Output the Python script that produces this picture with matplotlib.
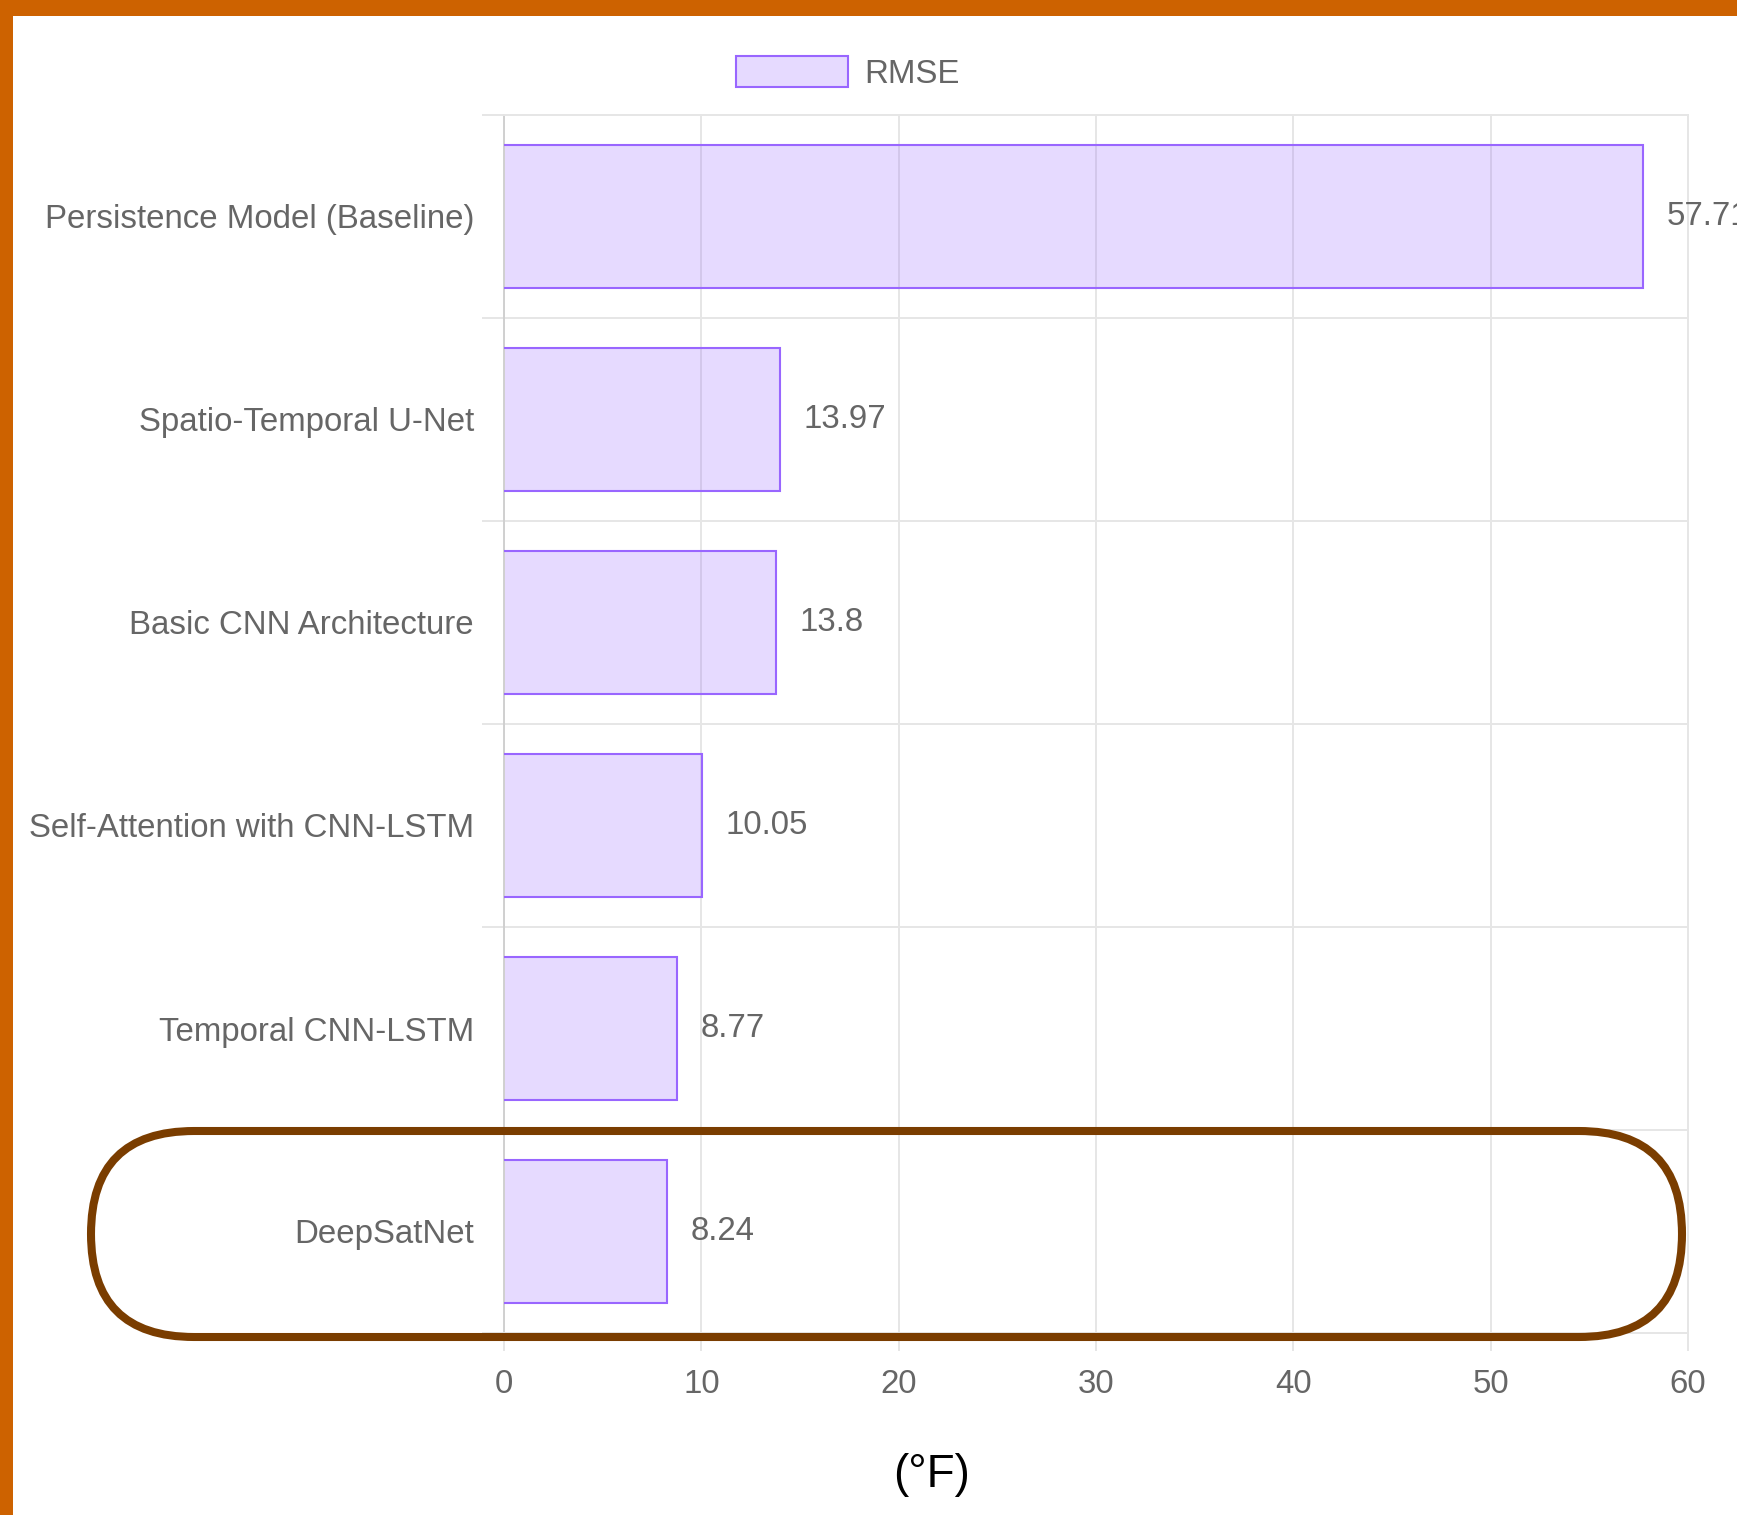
import numpy as np
import matplotlib
matplotlib.use("Agg")
import matplotlib.pyplot as plt
from matplotlib.patches import Patch, Rectangle, FancyBboxPatch

plt.rcParams['font.family'] = ['Liberation Sans', 'DejaVu Sans']

models = [
    "Persistence Model (Baseline)",
    "Spatio-Temporal U-Net",
    "Basic CNN Architecture",
    "Self-Attention with CNN-LSTM",
    "Temporal CNN-LSTM",
    "DeepSatNet",
]
rmse = [57.71, 13.97, 13.8, 10.05, 8.77, 8.24]
x_ticks = [0, 10, 20, 30, 40, 50, 60]

W, H = 1737, 1515
fill = (153 / 255, 102 / 255, 1.0, 0.24)
edge = (153 / 255, 102 / 255, 1.0)
grid_c = "#e6e6e6"
text_c = "#666666"
fs = 23.8

fig = plt.figure(figsize=(W / 100, H / 100), dpi=100)
ax = fig.add_axes([504 / W, 1 - 1333 / H, 1184 / W, (1333 - 115) / H])

ypos = np.arange(len(models))
bar_h = 0.70
ax.barh(ypos, rmse, height=bar_h, color=fill, edgecolor="none", zorder=2)
# outline on top/right/bottom only (no border at the base)
for y, v in zip(ypos, rmse):
    ax.plot([0, v, v, 0], [y - bar_h / 2, y - bar_h / 2, y + bar_h / 2, y + bar_h / 2],
            color=edge, lw=1.5, zorder=3, solid_joinstyle="miter")
    ax.annotate(f"{v}", xy=(v, y), xytext=(17, 0), textcoords="offset points",
                ha="left", va="center", fontsize=fs, color=text_c,
                annotation_clip=False)

ax.set_xlim(0, 60)
ax.set_ylim(len(models) - 0.5, -0.5)
ax.set_xticks(x_ticks)
ax.set_yticks(ypos)
ax.set_yticklabels(models)
ax.set_yticks(np.arange(-0.5, len(models), 1), minor=True)

ax.grid(axis="x", which="major", color=grid_c, lw=1.4, zorder=0)
ax.grid(axis="y", which="minor", color=grid_c, lw=1.4, zorder=0)
ax.set_axisbelow(True)

ax.tick_params(axis="x", which="major", length=13, width=1.4, color=grid_c,
               pad=13, labelsize=fs, labelcolor=text_c)
ax.tick_params(axis="y", which="major", length=0, pad=21.6,
               labelsize=fs, labelcolor=text_c)
ax.tick_params(axis="y", which="minor", length=15.8, width=1.4, color=grid_c)

for side in ["top", "right", "bottom"]:
    ax.spines[side].set_color(grid_c)
    ax.spines[side].set_linewidth(1.4)
ax.spines["left"].set_color("#d0d0d0")
ax.spines["left"].set_linewidth(1.4)

fig.legend(handles=[Patch(facecolor=fill, edgecolor=edge, lw=1.5)], labels=["RMSE"],
           loc="center", bbox_to_anchor=(847.5 / W, 1 - 73 / H), frameon=False,
           fontsize=fs, labelcolor=text_c, handlelength=3.39, handleheight=1.05,
           handletextpad=0.5)

fig.text(932 / W, 1 - 1475 / H, "(°F)", ha="center", va="center",
         fontsize=33, color="black")

# pixel-space overlay for the frame and the highlight
ov = fig.add_axes([0, 0, 1, 1], zorder=10)
ov.set_xlim(0, W)
ov.set_ylim(H, 0)
ov.axis("off")
ov.patch.set_alpha(0)
ov.add_patch(Rectangle((0, 0), W, 16, color="#cd6200", lw=0))
ov.add_patch(Rectangle((0, 0), 13, H, color="#cd6200", lw=0))
ov.add_patch(FancyBboxPatch((91, 1131), 1682 - 91, 206,
                            boxstyle="round,pad=0,rounding_size=103",
                            fill=False, ec="#7a3d00", lw=5.8))

fig.savefig("out.png", dpi=100)
